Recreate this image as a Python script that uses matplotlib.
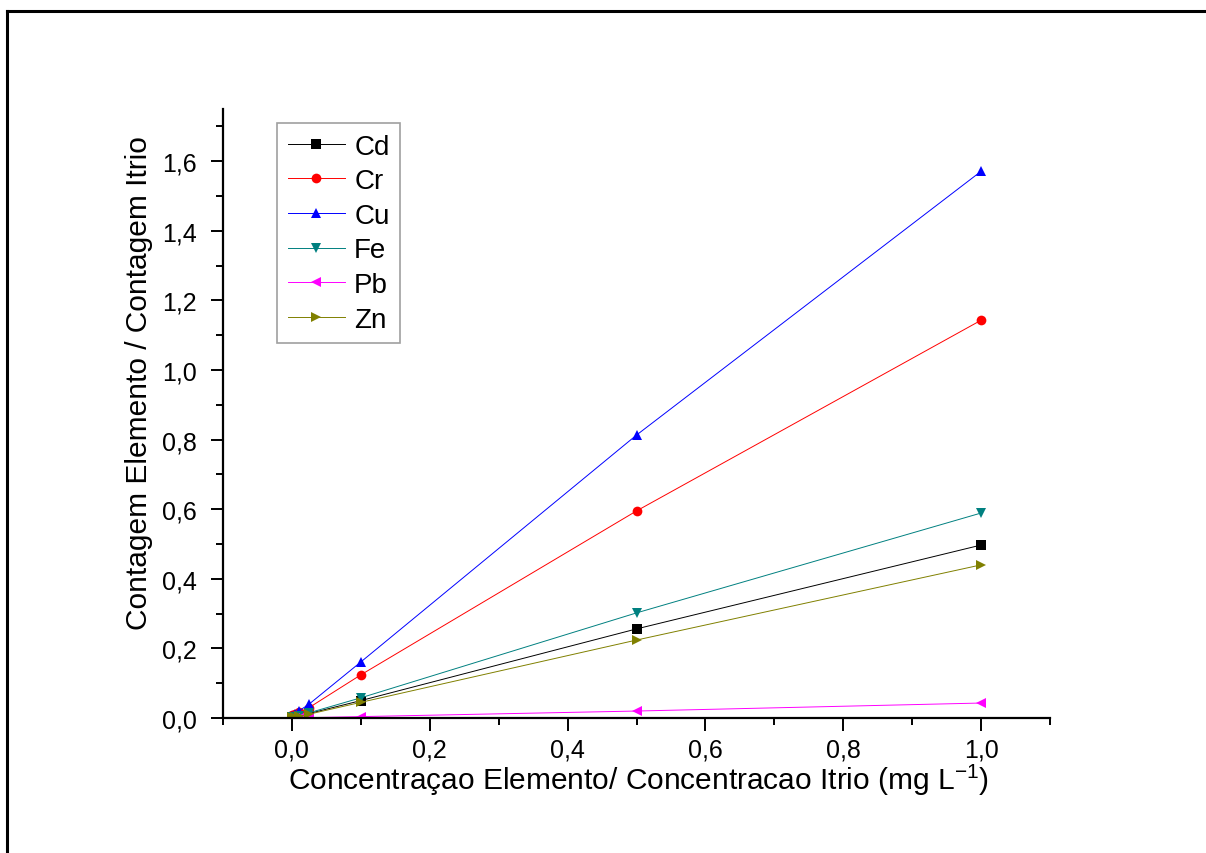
import matplotlib
matplotlib.use("Agg")
import matplotlib.pyplot as plt
from matplotlib.ticker import MultipleLocator, FuncFormatter
from matplotlib.lines import Line2D

plt.rcParams['font.family'] = ['Liberation Sans', 'DejaVu Sans']
plt.rcParams['mathtext.fontset'] = 'custom'
plt.rcParams['mathtext.rm'] = 'Liberation Sans'
plt.rcParams['mathtext.it'] = 'Liberation Sans'

x = [0.0, 0.005, 0.01, 0.025, 0.1, 0.5, 1.0]
names = ["Cd", "Cr", "Cu", "Fe", "Pb", "Zn"]
cd = [0.002, 0.004, 0.006, 0.013, 0.050, 0.256, 0.497]
cr = [0.008, 0.012, 0.016, 0.030, 0.124, 0.595, 1.143]
cu = [0.006, 0.012, 0.020, 0.040, 0.161, 0.813, 1.571]
fe = [0.002, 0.004, 0.007, 0.015, 0.058, 0.302, 0.589]
pb = [0.000, 0.000, 0.001, 0.001, 0.004, 0.020, 0.043]
zn = [0.002, 0.003, 0.005, 0.011, 0.045, 0.224, 0.440]
series = [cd, cr, cu, fe, pb, zn]
colors = ["#000000", "#ff0000", "#0000ff", "#008080", "#ff00ff", "#808000"]
markers = ["s", "o", "^", "v", "<", ">"]

fig = plt.figure(figsize=(12.06, 8.54), dpi=100)
ax = fig.add_axes([223/1206, 1-719/854, (1050-223)/1206, (719-110)/854])

for name, y, c, m in zip(names, series, colors, markers):
    ax.plot(x, y, color=c, lw=0.7, marker=m, markersize=7, label=name,
            markeredgewidth=0)

ax.set_xlim(-0.1, 1.1)
ax.set_ylim(0, 1.75)
ax.xaxis.set_major_locator(MultipleLocator(0.2))
ax.xaxis.set_minor_locator(MultipleLocator(0.1))
ax.yaxis.set_major_locator(MultipleLocator(0.2))
ax.yaxis.set_minor_locator(MultipleLocator(0.1))
fmt = FuncFormatter(lambda v, p: f"{v:.1f}".replace(".", ",").replace("-0,0", "0,0"))
ax.xaxis.set_major_formatter(fmt)
ax.yaxis.set_major_formatter(fmt)
ax.spines['top'].set_visible(False)
ax.spines['right'].set_visible(False)
ax.spines['left'].set_linewidth(1.6)
ax.spines['bottom'].set_linewidth(1.6)
ax.tick_params(which='major', direction='out', length=9, width=1.4, labelsize=18)
ax.tick_params(which='minor', direction='out', length=5, width=1.4)
ax.tick_params(axis='x', which='major', pad=5)
ax.tick_params(axis='y', which='major', pad=10)

ax.set_xlabel("Concentraçao Elemento/ Concentracao Itrio (mg L$^{-1}$)", fontsize=21.5)
ax.set_ylabel("Contagem Elemento / Contagem Itrio", fontsize=21.5)
ax.xaxis.set_label_coords((638-223)/827, (719-763)/609)
ax.yaxis.set_label_coords((153-223)/827, (719-383)/609)

leg = ax.legend(loc='upper left', bbox_to_anchor=((277-223)/(1050-223), (719-124)/(719-110)),
                fontsize=20, frameon=True, fancybox=False, handlelength=2.05,
                labelspacing=0.31, borderpad=0.38, handletextpad=0.35, borderaxespad=0)
leg.get_frame().set_edgecolor('#888888')
leg.get_frame().set_linewidth(1.2)

# outer frame (left and top edges)
fig.add_artist(Line2D([7/1206, 7/1206], [0, 1-12/854], transform=fig.transFigure, color='black', lw=2.2))
fig.add_artist(Line2D([7/1206, 1], [1-12/854, 1-12/854], transform=fig.transFigure, color='black', lw=2.2))

fig.savefig("out.png", dpi=100)
